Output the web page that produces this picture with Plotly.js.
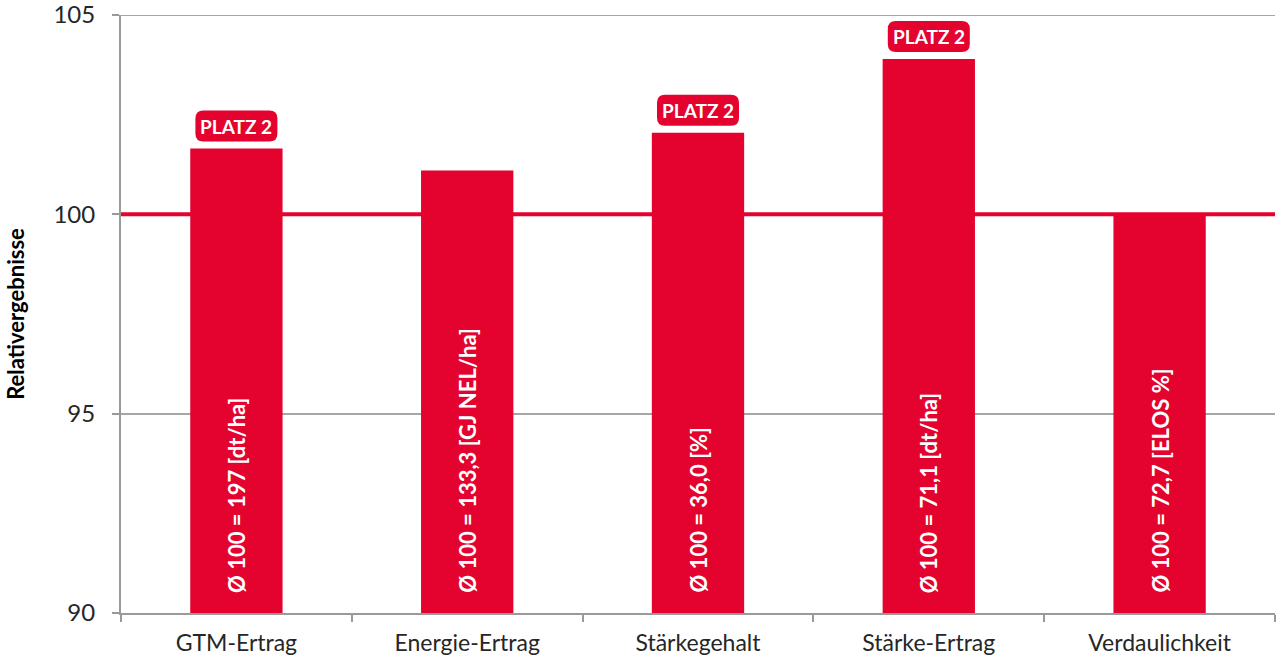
<!DOCTYPE html>
<html>
<head>
<meta charset="utf-8">
<script src="https://cdn.plot.ly/plotly-3.0.1.min.js"></script>
<style>
  html, body { margin: 0; padding: 0; background: #fff; }
  #chart { width: 1276px; height: 656px; }
</style>
</head>
<body>
<div id="chart"></div>
<script>
// Relative results of the variety (Ø of all tested = 100)
const categories = ["GTM-Ertrag", "Energie-Ertrag", "Stärkegehalt", "Stärke-Ertrag", "Verdaulichkeit"];
const relValues = [101.65, 101.1, 102.05, 103.9, 100.0];
const baseLabels = [
  "Ø 100 = 197 [dt/ha]",
  "Ø 100 = 133,3 [GJ NEL/ha]",
  "Ø 100 = 36,0 [%]",
  "Ø 100 = 71,1 [dt/ha]",
  "Ø 100 = 72,7 [ELOS %]"
];
const ranks = [2, null, 2, 2, null];
const yTicks = [90, 95, 100, 105];
const axisFloor = 90;
const axisTop = 105;
const referenceLevel = 100;

const RED = "#E4032E";
const FONT = "Lato, 'Open Sans', sans-serif";

// bars rise from the axis floor (90) up to each relative value
const bars = {
  type: "bar",
  x: categories,
  y: relValues.map(v => v - axisFloor),
  base: axisFloor,
  width: 0.4,
  marker: { color: RED, line: { width: 0 } },
  hoverinfo: "x+y"
};

// Rounded badge ("PLATZ n") above each ranked bar, sized in pixels, anchored at the bar top
const badgeW = 82, badgeH = 31, badgeR = 8, badgeGap = 7;
function roundedRect(w, h, r, y0) {
  const x0 = -w / 2, x1 = w / 2, y1 = y0 + h;
  return `M ${x0 + r},${y0} L ${x1 - r},${y0} Q ${x1},${y0} ${x1},${y0 + r} ` +
         `L ${x1},${y1 - r} Q ${x1},${y1} ${x1 - r},${y1} L ${x0 + r},${y1} ` +
         `Q ${x0},${y1} ${x0},${y1 - r} L ${x0},${y0 + r} Q ${x0},${y0} ${x0 + r},${y0} Z`;
}

const shapes = [
  // top gridline, drawn explicitly so it stays at the range edge
  {
    type: "line", xref: "paper", yref: "y",
    x0: 0, x1: 1, y0: axisTop, y1: axisTop,
    line: { color: "#a6a6a6", width: 2 }, layer: "below"
  },
  {
    type: "line", xref: "paper", yref: "y",
    x0: 0, x1: 1, y0: referenceLevel, y1: referenceLevel,
    line: { color: RED, width: 4 }, layer: "above"
  }
];
const annotations = [];

// reference base of each criterion, written upward inside the bar
categories.forEach((c, i) => {
  annotations.push({
    x: c, y: axisFloor, xref: "x", yref: "y",
    text: baseLabels[i],
    textangle: -90,
    showarrow: false,
    xanchor: "center", yanchor: "bottom",
    yshift: 18,
    font: { family: FONT, size: 22, color: "#ffffff", weight: 700 }
  });
});

categories.forEach((c, i) => {
  if (ranks[i] == null) return;
  shapes.push({
    type: "path", xref: "x", yref: "y",
    xsizemode: "pixel", ysizemode: "pixel",
    xanchor: c, yanchor: relValues[i],
    path: roundedRect(badgeW, badgeH, badgeR, badgeGap),
    fillcolor: RED, line: { width: 0 }, layer: "above"
  });
  annotations.push({
    x: c, y: relValues[i], xref: "x", yref: "y",
    text: "PLATZ " + ranks[i],
    showarrow: false,
    yanchor: "middle",
    yshift: badgeGap + badgeH / 2,
    font: { family: FONT, size: 19, color: "#ffffff", weight: 700 }
  });
});

const layout = {
  width: 1276, height: 656,
  margin: { l: 121, r: 1, t: 15, b: 43, pad: 0 },
  paper_bgcolor: "#ffffff",
  plot_bgcolor: "#ffffff",
  showlegend: false,
  font: { family: FONT, color: "#262626" },
  xaxis: {
    type: "category",
    range: [-0.5, categories.length - 0.5],
    showline: true, linecolor: "#9a9a9a", linewidth: 2,
    ticks: "outside", tickson: "boundaries", ticklen: 7, tickwidth: 2, tickcolor: "#9a9a9a",
    tickfont: { family: FONT, size: 23, color: "#262626" },
    ticklabelstandoff: 8,
    showgrid: false, zeroline: false, fixedrange: true
  },
  yaxis: {
    range: [axisFloor, axisTop + 0.001],
    tickvals: yTicks,
    ticktext: yTicks.map(String),
    ticklabeloverflow: "allow",
    showline: true, linecolor: "#9a9a9a", linewidth: 2,
    ticks: "outside", ticklen: 7, tickwidth: 2, tickcolor: "#9a9a9a",
    tickfont: { family: FONT, size: 24, color: "#262626" },
    ticklabelstandoff: 12,
    showgrid: true, gridcolor: "#a6a6a6", gridwidth: 2,
    zeroline: false, fixedrange: true,
    title: {
      text: "Relativergebnisse",
      font: { family: FONT, size: 22, color: "#000000", weight: 700 },
      standoff: 23
    }
  },
  shapes: shapes,
  annotations: annotations,
  bargap: 0.6
};

Plotly.newPlot("chart", [bars], layout, { displayModeBar: false, staticPlot: true });
</script>
</body>
</html>
